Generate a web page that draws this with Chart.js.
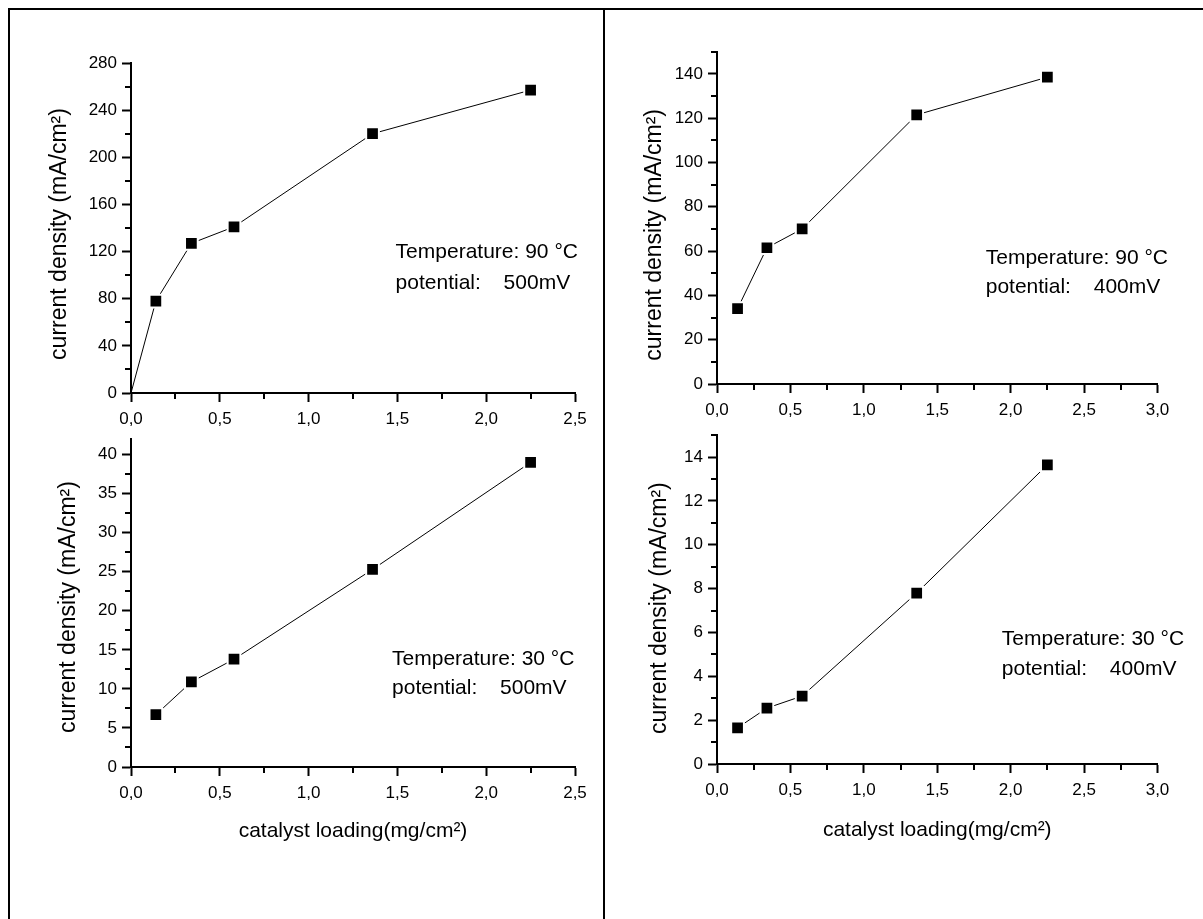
<!DOCTYPE html>
<html>
<head>
<meta charset="utf-8">
<script src="https://cdn.jsdelivr.net/npm/chart.js@4/dist/chart.umd.min.js"></script>
<style>
  html, body { margin: 0; padding: 0; background: #fff; }
  body { width: 1203px; height: 919px; position: relative; overflow: hidden; }
  .rule { position: absolute; background: #000; }
  canvas { position: absolute; }
</style>
</head>
<body>
<div class="rule" style="left:8px;top:8px;width:1195px;height:2px"></div>
<div class="rule" style="left:8px;top:8px;width:2px;height:911px"></div>
<div class="rule" style="left:603px;top:8px;width:2px;height:911px"></div>

<canvas id="p90_500" width="594" height="420" style="left:10px;top:10px"></canvas>
<canvas id="p90_400" width="597" height="420" style="left:606px;top:10px"></canvas>
<canvas id="p30_500" width="594" height="499" style="left:10px;top:420px"></canvas>
<canvas id="p30_400" width="597" height="499" style="left:606px;top:420px"></canvas>

<script>
// Catalyst loading (mg/cm²) and measured current density (mA/cm²)
const loading = [0.14, 0.34, 0.58, 1.36, 2.25];
const loadingWithOrigin = [0, 0.14, 0.34, 0.58, 1.36, 2.25];

const density90C500mV = [0, 78, 127, 141, 220, 257];
const density90C400mV = [34, 61.5, 70, 121.5, 138.5];
const density30C500mV = [6.7, 10.9, 13.8, 25.3, 39.0];
const density30C400mV = [1.65, 2.55, 3.1, 7.8, 13.65];

// Axis tick values
const xTicksTo25 = [0, 0.5, 1.0, 1.5, 2.0, 2.5];
const xTicksTo30 = [0, 0.5, 1.0, 1.5, 2.0, 2.5, 3.0];
const yTicks90C500mV = [0, 40, 80, 120, 160, 200, 240, 280];
const yTicks90C400mV = [0, 20, 40, 60, 80, 100, 120, 140];
const yTicks30C500mV = [0, 5, 10, 15, 20, 25, 30, 35, 40];
const yTicks30C400mV = [0, 2, 4, 6, 8, 10, 12, 14];

// Conditions printed in each panel
const temperatureLabels = ['Temperature: 90 °C', 'Temperature: 90 °C', 'Temperature: 30 °C', 'Temperature: 30 °C'];
const potentialLabels = ['500mV', '400mV', '500mV', '400mV'];

const yTitle = 'current density (mA/cm²)';
const xTitle = 'catalyst loading(mg/cm²)';

Chart.defaults.font.family = "'Liberation Sans', Arial, sans-serif";
Chart.defaults.color = '#000';

// minor ticks half way between the labelled ones
function minorBetween(major, max) {
  const out = [];
  for (let i = 0; i < major.length; i++) {
    const step = i + 1 < major.length ? major[i + 1] - major[i] : major[i] - major[i - 1];
    const m = major[i] + step / 2;
    if (m <= max + 1e-9) out.push(m);
  }
  return out;
}

const minorTickPlugin = {
  id: 'minorTicks',
  afterDraw(chart, args, opts) {
    const ctx = chart.ctx, xs = chart.scales.x, ys = chart.scales.y;
    ctx.save();
    ctx.strokeStyle = '#000';
    ctx.lineWidth = 2;
    ctx.beginPath();
    opts.x.forEach(v => {
      const px = Math.round(xs.getPixelForValue(v));
      ctx.moveTo(px, xs.top + 1);
      ctx.lineTo(px, xs.top + 1 + opts.length);
    });
    opts.y.forEach(v => {
      const py = Math.round(ys.getPixelForValue(v));
      ctx.moveTo(ys.right - 1, py);
      ctx.lineTo(ys.right - 1 - opts.length, py);
    });
    ctx.stroke();
    ctx.restore();
  }
};

const yTitlePlugin = {
  id: 'yTitle',
  afterDraw(chart, args, opts) {
    const ctx = chart.ctx, a = chart.chartArea;
    ctx.save();
    ctx.translate(a.left - opts.dx, (a.top + a.bottom) / 2 + opts.dy);
    ctx.rotate(-Math.PI / 2);
    ctx.font = opts.size + "px 'Liberation Sans', Arial, sans-serif";
    ctx.fillStyle = '#000';
    ctx.textAlign = 'center';
    ctx.textBaseline = 'middle';
    ctx.fillText(opts.text, 0, 0);
    ctx.restore();
  }
};

const conditionsPlugin = {
  id: 'conditions',
  afterDraw(chart, args, opts) {
    const ctx = chart.ctx;
    const x = chart.scales.x.getPixelForValue(opts.x);
    const y = chart.scales.y.getPixelForValue(opts.y);
    ctx.save();
    ctx.font = opts.size + "px 'Liberation Sans', Arial, sans-serif";
    ctx.fillStyle = '#000';
    ctx.textAlign = 'left';
    ctx.textBaseline = 'middle';
    ctx.fillText(opts.temperature, x, y);
    ctx.fillText('potential:', x, y + opts.gap);
    ctx.fillText(opts.potential, x + opts.valueShift, y + opts.gap);
    ctx.restore();
  }
};

function makePanel(id, c) {
  const points = c.xs.map((v, i) => ({ x: v, y: c.ys[i] }));
  return new Chart(document.getElementById(id), {
    type: 'line',
    data: {
      datasets: [{
        data: points,
        borderColor: '#000',
        borderWidth: 1,
        backgroundColor: '#000',
        pointBackgroundColor: '#000',
        pointBorderColor: '#fff',
        pointBorderWidth: 2,
        pointStyle: 'rect',
        pointRadius: points.map(p => (p.x === 0 && p.y === 0) ? 0 : 9),
        tension: 0,
        fill: false
      }]
    },
    options: {
      responsive: false,
      animation: false,
      events: [],
      layout: { padding: { left: 0, top: c.padTop, right: c.padRight, bottom: c.padBottom } },
      plugins: {
        legend: { display: false },
        tooltip: { enabled: false },
        minorTicks: { x: minorBetween(c.xTicks, c.xMax), y: minorBetween(c.yTicks, c.yMax), length: 5 },
        yTitle: { text: yTitle, size: 23, dx: c.titleDx, dy: c.titleDy },
        conditions: { temperature: c.temperature, potential: c.potential, x: c.noteX, y: c.noteY,
                      gap: c.noteGap, valueShift: 108, size: 21 }
      },
      scales: {
        x: {
          type: 'linear', min: 0, max: c.xMax,
          afterBuildTicks: s => { s.ticks = c.xTicks.map(v => ({ value: v })); },
          afterFit: s => { s.height = c.xHeight; },
          ticks: { callback: v => v.toFixed(1).replace('.', ','), font: { size: 17 }, color: '#000',
                   padding: 7, autoSkip: false, maxRotation: 0 },
          grid: { display: true, drawOnChartArea: false, drawTicks: true, tickLength: 9,
                  tickWidth: 2, tickColor: '#000', color: '#000' },
          border: { display: true, width: 2, color: '#000' },
          title: { display: c.showXTitle, text: xTitle, font: { size: 21 }, color: '#000',
                   padding: { top: 0, bottom: c.xTitlePad } }
        },
        y: {
          type: 'linear', min: 0, max: c.yMax,
          afterBuildTicks: s => { s.ticks = c.yTicks.map(v => ({ value: v })); },
          afterFit: s => { s.width = c.yWidth; },
          ticks: { callback: v => String(v), font: { size: 17 }, color: '#000', padding: 5, autoSkip: false },
          grid: { display: true, drawOnChartArea: false, drawTicks: true, tickLength: 9,
                  tickWidth: 2, tickColor: '#000', color: '#000' },
          border: { display: true, width: 2, color: '#000' }
        }
      }
    },
    plugins: [minorTickPlugin, yTitlePlugin, conditionsPlugin]
  });
}

makePanel('p90_500', {
  xs: loadingWithOrigin, ys: density90C500mV, xTicks: xTicksTo25, xMax: 2.5, yTicks: yTicks90C500mV, yMax: 280,
  padTop: 53, padRight: 29, padBottom: 0, yWidth: 121, xHeight: 37, showXTitle: false, xTitlePad: 0,
  titleDx: 71, titleDy: 6, temperature: temperatureLabels[0], potential: potentialLabels[0],
  noteX: 1.49, noteY: 119.2, noteGap: 31
});

makePanel('p90_400', {
  xs: loading, ys: density90C400mV, xTicks: xTicksTo30, xMax: 3.0, yTicks: yTicks90C400mV, yMax: 150,
  padTop: 41.7, padRight: 45.5, padBottom: 0, yWidth: 111, xHeight: 46, showXTitle: false, xTitlePad: 0,
  titleDx: 62, titleDy: 17, temperature: temperatureLabels[1], potential: potentialLabels[1],
  noteX: 1.83, noteY: 56.9, noteGap: 29
});

makePanel('p30_500', {
  xs: loading, ys: density30C500mV, xTicks: xTicksTo25, xMax: 2.5, yTicks: yTicks30C500mV, yMax: 42,
  padTop: 19, padRight: 29, padBottom: 72, yWidth: 121, xHeight: 80, showXTitle: true, xTitlePad: 3,
  titleDx: 62, titleDy: 4, temperature: temperatureLabels[2], potential: potentialLabels[2],
  noteX: 1.47, noteY: 13.8, noteGap: 29
});

makePanel('p30_400', {
  xs: loading, ys: density30C400mV, xTicks: xTicksTo30, xMax: 3.0, yTicks: yTicks30C400mV, yMax: 15,
  padTop: 11, padRight: 45.5, padBottom: 75, yWidth: 111, xHeight: 80, showXTitle: true, xTitlePad: 1.4,
  titleDx: 57, titleDy: 8.5, temperature: temperatureLabels[3], potential: potentialLabels[3],
  noteX: 1.94, noteY: 5.69, noteGap: 30
});
</script>
</body>
</html>
